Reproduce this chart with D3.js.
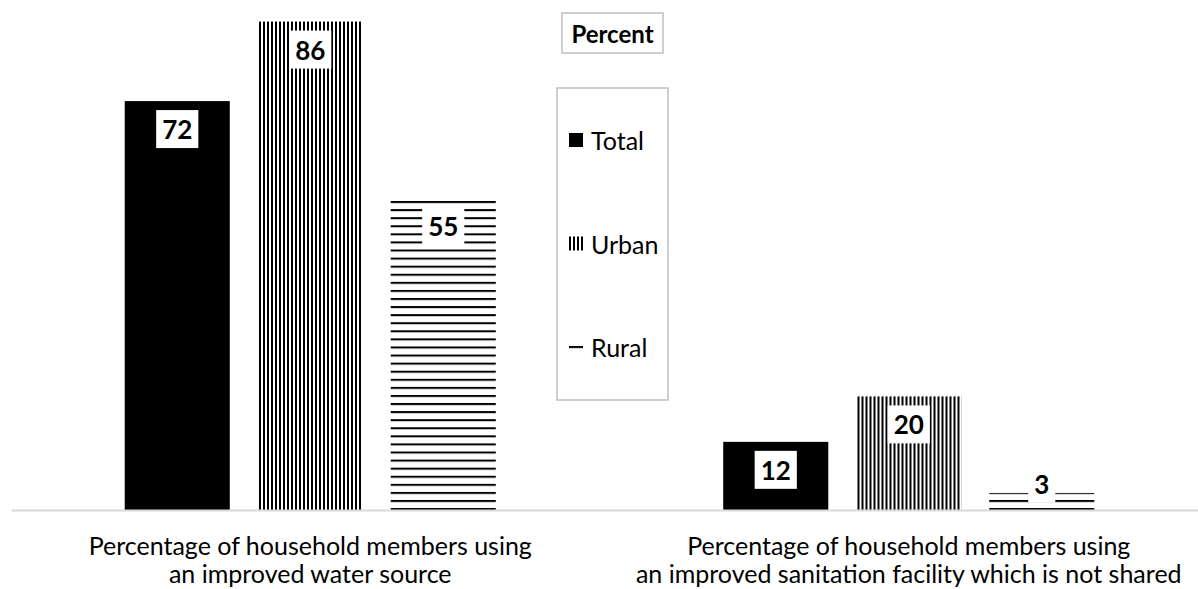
<!DOCTYPE html>
<html>
<head>
<meta charset="utf-8">
<script src="https://cdn.jsdelivr.net/npm/d3@7"></script>
<style>
  html, body { margin: 0; padding: 0; background: #fff; }
  svg { display: block; }
  text { font-family: Lato, "Open Sans", sans-serif; fill: #000; }
</style>
</head>
<body>
<svg id="chart" width="1198" height="589"></svg>
<script>
// Household water and sanitation indicators, percent
const categories = ["water", "sanitation"];
const categoryLabels = [
  ["Percentage of household members using", "an improved water source"],
  ["Percentage of household members using", "an improved sanitation facility which is not shared"]
];
const seriesNames = ["Total", "Urban", "Rural"];
const totalValues = [72, 12];
const urbanValues = [86, 20];
const ruralValues = [55, 3];
const legendTitle = "Percent";

const valuesBySeries = { Total: totalValues, Urban: urbanValues, Rural: ruralValues };

const svg = d3.select("#chart");
const baseY = 510;

// Fill patterns: solid, dense vertical stripes, wide horizontal stripes
const defs = svg.append("defs");
const vPat = defs.append("pattern")
  .attr("id", "pat-urban").attr("patternUnits", "userSpaceOnUse")
  .attr("width", 4).attr("height", 4);
vPat.append("rect").attr("width", 4).attr("height", 4).attr("fill", "#fff");
vPat.append("rect").attr("width", 2).attr("height", 4).attr("fill", "#000");

const hPat = defs.append("pattern")
  .attr("id", "pat-rural").attr("patternUnits", "userSpaceOnUse")
  .attr("width", 8).attr("height", 8.08)
  .attr("patternTransform", "translate(0,500)");
hPat.append("rect").attr("width", 8).attr("height", 8.08).attr("fill", "#fff");
hPat.append("rect").attr("width", 8).attr("height", 2).attr("fill", "#000");

const fills = { Total: "#000", Urban: "url(#pat-urban)", Rural: "url(#pat-rural)" };

// Scales
const x0 = d3.scaleBand().domain(categories).range([11, 1208]).padding(0);
const x1 = d3.scaleBand().domain(seriesNames).range([0, x0.bandwidth()])
  .paddingInner(0.21).paddingOuter(0.855);
const y = d3.scaleLinear().domain([0, 89.8]).range([baseY, 0]);

// Bars
const groups = svg.append("g").selectAll("g")
  .data(categories)
  .join("g")
  .attr("transform", d => `translate(${x0(d)},0)`);

const barData = (c, i) => seriesNames.map(s => ({ series: s, value: valuesBySeries[s][i] }));

groups.selectAll("rect.bar")
  .data((c, i) => barData(c, i))
  .join("rect")
  .attr("class", "bar")
  .attr("x", d => x1(d.series))
  .attr("y", d => y(d.value))
  .attr("width", x1.bandwidth())
  .attr("height", d => baseY - y(d.value))
  .attr("fill", d => fills[d.series]);

// Axis line
const axis = svg.append("g")
  .attr("transform", `translate(0,${baseY})`)
  .call(d3.axisBottom(x0).tickSize(0).tickFormat(""));
axis.select(".domain").attr("stroke", "#d9d9d9").attr("stroke-width", 2);

// Value labels in white boxes
groups.each(function (c, i) {
  const g = d3.select(this);
  barData(c, i).forEach(d => {
    const cx = x1(d.series) + x1.bandwidth() / 2;
    const cy = Math.min(y(d.value) + 28, baseY - 26.5);
    const lab = g.append("g");
    const box = lab.append("rect").attr("fill", "#fff");
    const t = lab.append("text")
      .attr("x", cx).attr("y", cy)
      .attr("text-anchor", "middle")
      .attr("dominant-baseline", "central")
      .attr("font-weight", "bold")
      .attr("font-size", 26)
      .text(d.value);
    const bb = t.node().getBBox();
    const w = bb.width + 12;
    const h = 38;
    box.attr("x", cx - w / 2).attr("y", cy - h / 2).attr("width", w).attr("height", h);
  });
});

// Category labels
const catText = svg.append("g").selectAll("text")
  .data(categories)
  .join("text")
  .attr("text-anchor", "middle")
  .attr("font-size", 25)
  .attr("x", d => x0(d) + x0.bandwidth() / 2);
catText.selectAll("tspan")
  .data((d, i) => categoryLabels[i])
  .join("tspan")
  .attr("x", function () { return d3.select(this.parentNode).attr("x"); })
  .attr("y", (d, j) => 555 + j * 28)
  .text(d => d);

// Legend title
svg.append("rect")
  .attr("x", 562).attr("y", 13).attr("width", 101).attr("height", 40)
  .attr("fill", "#fff").attr("stroke", "#bfbfbf").attr("stroke-width", 1.5);
svg.append("text")
  .attr("x", 612.5).attr("y", 33)
  .attr("text-anchor", "middle").attr("dominant-baseline", "central")
  .attr("font-weight", "bold").attr("font-size", 24)
  .text(legendTitle);

// Legend
svg.append("rect")
  .attr("x", 557).attr("y", 88).attr("width", 111).attr("height", 312)
  .attr("fill", "#fff").attr("stroke", "#bfbfbf").attr("stroke-width", 1.5);
const legendY = d3.scalePoint().domain(seriesNames).range([140, 347]);
const items = svg.append("g").selectAll("g")
  .data(seriesNames)
  .join("g")
  .attr("transform", d => `translate(569,${legendY(d)})`);
items.append("rect")
  .attr("x", 0)
  .attr("y", d => d === "Rural" ? -5 : -7)
  .attr("width", 14)
  .attr("height", d => d === "Rural" ? 9 : 14)
  .attr("fill", d => fills[d]);
items.append("text")
  .attr("x", 22).attr("y", 0)
  .attr("dominant-baseline", "central")
  .attr("font-size", 25)
  .text(d => d);
</script>
</body>
</html>
